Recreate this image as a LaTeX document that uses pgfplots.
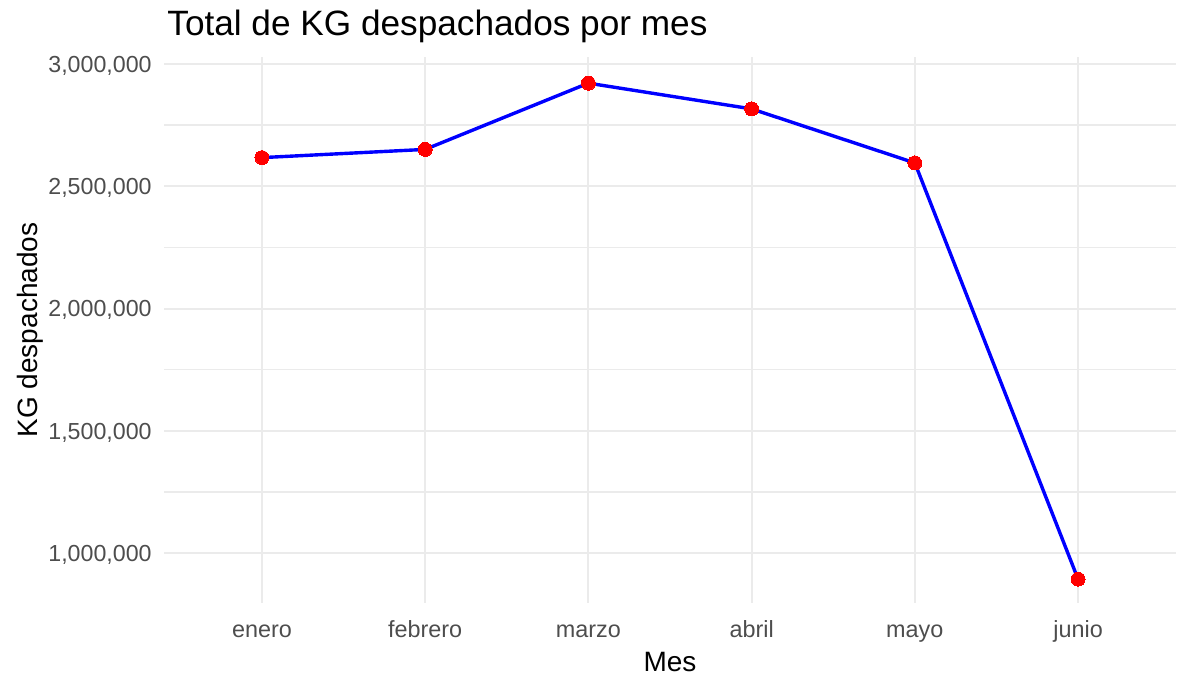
\documentclass[border=0pt]{standalone}
\usepackage{fontspec}
\setmainfont{Liberation Sans}
\usepackage{pgfplots}
\pgfplotsset{compat=1.18}
\definecolor{gridc}{HTML}{EBEBEB}
\definecolor{tickc}{HTML}{4D4D4D}
\begin{document}
\begin{tikzpicture}
\useasboundingbox (-82pt,-37pt) rectangle (506.5pt,301.5pt);
\begin{axis}[
  at={(0,0)}, anchor=south west,
  scale only axis, width=506pt, height=273pt,
  xmin=-0.6, xmax=5.6, ymin=797000, ymax=3028000,
  axis line style={draw=none},
  major tick length=0pt, minor tick length=0pt,
  tick style={draw=none},
  xtick={0,1,2,3,4,5},
  xticklabels={enero,febrero,marzo,abril,mayo,junio},
  ytick={1000000,1500000,2000000,2500000,3000000},
  minor ytick={1250000,1750000,2250000,2750000},
  scaled y ticks=false,
  /pgf/number format/.cd, fixed, precision=0, 1000 sep={,}, assume math mode=true,
  /pgfplots/.cd,
  xmajorgrids, ymajorgrids, yminorgrids,
  major grid style={draw=gridc, line width=1pt},
  minor grid style={draw=gridc, line width=0.7pt},
  xticklabel style={anchor=base, yshift=-17pt, inner sep=0pt, text=tickc, font=\fontsize{11.7}{13}\selectfont},
  yticklabel style={anchor=base east, xshift=-6pt, yshift=-4.2pt, inner sep=0pt, text=tickc, font=\fontsize{11.6}{13}\selectfont},
  title={Total de KG despachados por mes},
  title style={at={(axis description cs:0,1)}, anchor=base west, yshift=5pt, xshift=1.5pt, inner sep=0pt, font=\fontsize{17.6}{20}\selectfont},
  xlabel={Mes},
  xlabel style={at={(axis description cs:0.5,0)}, anchor=base, yshift=-34pt, inner sep=0pt, font=\fontsize{14}{16}\selectfont},
  ylabel={KG despachados},
  ylabel style={at={([xshift=-63pt]axis description cs:0,0.5)}, rotate=0, anchor=base, inner sep=0pt, font=\fontsize{14}{16}\selectfont},
]
\addplot[color=blue, line width=1.7pt, mark=*, mark size=3.5pt, mark options={fill=red, draw=red, line width=0pt}]
  coordinates {(0,2616900)(1,2650450)(2,2921100)(3,2816000)(4,2595300)(5,894500)};
\end{axis}
\end{tikzpicture}
\end{document}
